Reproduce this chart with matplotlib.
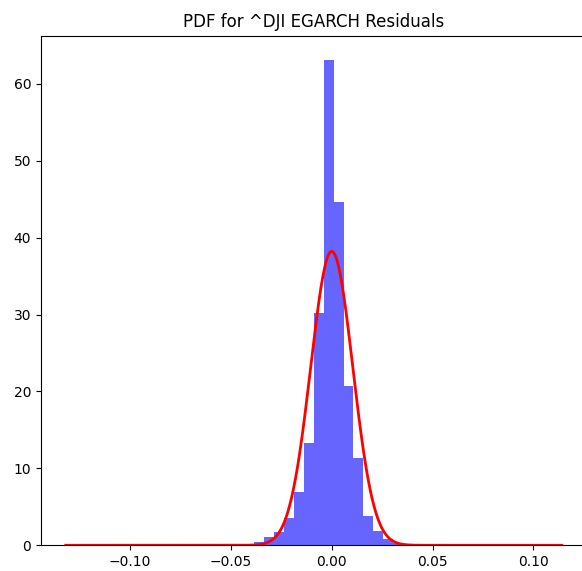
# Density histogram of the ^DJI EGARCH residuals with a fitted normal PDF

import numpy as np
import matplotlib.pyplot as plt

# residual range and 50 density bins
x_min = -0.1319
x_max = 0.1141
n_bins = 50
bin_heights = [0.04, 0, 0, 0, 0, 0, 0, 0, 0, 0,
               0, 0, 0, 0, 0, 0, 0, 0.2, 0.05, 0.4,
               1.1, 1.7, 3.6, 6.9, 13.3, 30.2, 63.1, 44.6, 20.7, 11.3,
               3.8, 1.9, 0.8, 0.3, 0.2, 0, 0, 0, 0, 0,
               0, 0, 0, 0, 0, 0, 0, 0, 0, 0.04]

# normal fit
mu = 0.0
sigma = 0.01044

edges = np.linspace(x_min, x_max, n_bins + 1)
centers = 0.5 * (edges[:-1] + edges[1:])

fig = plt.figure(figsize=(5.82, 5.71), dpi=100)
ax = fig.add_axes([41 / 582, (571 - 545.3) / 571, 545.6 / 582, (545.3 - 35.7) / 571])

ax.hist(centers, bins=edges, weights=bin_heights, alpha=0.6, color='b')

x = np.linspace(x_min, x_max, 1000)
pdf = np.exp(-0.5 * ((x - mu) / sigma) ** 2) / (sigma * np.sqrt(2 * np.pi))
ax.plot(x, pdf, 'r', linewidth=2)

ax.set_title('PDF for ^DJI EGARCH Residuals')

fig.savefig('out.png', dpi=100)
